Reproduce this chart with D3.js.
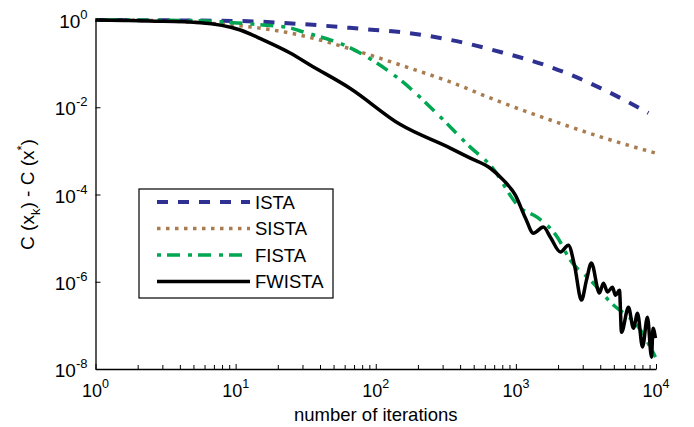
<!DOCTYPE html>
<html>
<head>
<meta charset="utf-8">
<script src="https://cdn.jsdelivr.net/npm/d3@7"></script>
<style>
  body { margin: 0; background: #fff; }
  text { font-family: "Liberation Sans", Arial, Helvetica, sans-serif; fill: #000; }
</style>
</head>
<body>
<div id="main"></div>
<script>
// values (iterations k, cost gap C(x_k) - C(x*))
var istaK  = [1, 10, 29, 99, 150, 340, 775, 1763, 4015, 8830];
var istaC  = [1, 0.95, 0.81, 0.59, 0.53, 0.35, 0.185, 0.084, 0.0275, 0.0074];

var sistaK = [1, 3, 6.9, 14.5, 28.9, 77.5, 150, 340, 775, 1763, 4015, 9910];
var sistaC = [1, 0.96, 0.83, 0.66, 0.45, 0.185, 0.093, 0.038, 0.0132, 0.0051, 0.0021, 0.00089];

var fistaK = [1, 4.7, 9.6, 15.7, 24.5, 28.9, 65.8, 150, 289, 473, 657, 1077, 1425, 1978, 2449, 3404, 4731, 7745, 9910];
var fistaC = [1, 0.97, 0.87, 0.77, 0.66, 0.56, 0.23, 0.042, 0.006, 0.00122, 4.7e-4, 4.9e-5, 3.0e-5, 1.05e-5, 3.1e-6, 1.09e-6, 3.4e-7, 7.8e-8, 1.87e-8];

var fwistaK = [1, 1.6, 2.45, 5.6, 10.8, 15.7, 24.5, 34, 65.8, 150, 340, 473, 657, 815, 992, 1170, 1333, 1571, 1763, 2079, 2371, 2618, 2938, 3190, 3459, 3945, 4217, 4506, 4887, 5140, 5486, 5673, 6363, 6903, 7380, 8013, 8687, 9290, 9520, 9910];
var fwistaC = [1, 0.98, 0.95, 0.87, 0.59, 0.35, 0.175, 0.093, 0.027, 0.0040, 0.00116, 6.8e-4, 4.0e-4, 2.14e-4, 9.7e-5, 2.9e-5, 1.3e-5, 1.79e-5, 1.05e-5, 4.8e-6, 6.9e-6, 2.4e-6, 3.8e-7, 1.09e-6, 2.7e-6, 5.5e-7, 9.3e-7, 5.8e-7, 7.5e-7, 4.9e-7, 6.4e-7, 7.0e-8, 2.6e-7, 8.6e-8, 1.9e-7, 3.2e-8, 1.54e-7, 1.87e-8, 8.6e-8, 5.1e-8];

var legendNames = ["ISTA", "SISTA", "FISTA", "FWISTA"];
var xTickExp = [0, 1, 2, 3, 4];
var yTickExp = [0, -2, -4, -6, -8];

var ctx = {
    w: 694,
    h: 427,
    left: 95.5, right: 656, top: 20, bottom: 369,
};

var series = [
    {name: "ISTA",   k: istaK,   c: istaC,   color: "#2e3192", width: 4,   dash: "11,10"},
    {name: "SISTA",  k: sistaK,  c: sistaC,  color: "#a97c50", width: 3.5, dash: "3.5,5.5"},
    {name: "FISTA",  k: fistaK,  c: fistaC,  color: "#00a651", width: 3.5, dash: "4,6,13,8"},
    {name: "FWISTA", k: fwistaK, c: fwistaC, color: "#000000", width: 3.5, dash: null},
];

var createViz = function(){
    var svg = d3.select("#main").append("svg")
        .attr("width", ctx.w)
        .attr("height", ctx.h);

    ctx.xScale = d3.scaleLog().domain([1, 1e4]).range([ctx.left, ctx.right]);
    ctx.yScale = d3.scaleLog().domain([1e-8, 1]).range([ctx.bottom, ctx.top]);

    // curves
    var line = d3.line()
        .x(function(d){ return ctx.xScale(d[0]); })
        .y(function(d){ return ctx.yScale(d[1]); })
        .curve(d3.curveMonotoneX);

    series.forEach(function(s){
        var pts = s.k.map(function(k, i){ return [k, s.c[i]]; });
        var p = svg.append("path")
            .attr("d", line(pts))
            .attr("fill", "none")
            .attr("stroke", s.color)
            .attr("stroke-width", s.width)
            .attr("stroke-linejoin", "round");
        if (s.dash) p.attr("stroke-dasharray", s.dash);
    });

    // x axis, ticks pointing inward
    var minor = ctx.xScale.ticks();
    svg.append("g")
        .attr("transform", "translate(0," + ctx.bottom + ")")
        .call(d3.axisBottom(ctx.xScale).tickValues(minor).tickSize(-4).tickSizeOuter(0).tickFormat(""))
        .call(function(g){
            g.select(".domain").attr("stroke-width", 1.3);
            g.selectAll(".tick line").attr("stroke-width", 1)
              .attr("y2", function(d){ return Math.abs(Math.log10(d) % 1) < 1e-9 ? -5 : -4; });
        });

    // y axis, majors only
    svg.append("g")
        .attr("transform", "translate(" + ctx.left + ",0)")
        .call(d3.axisLeft(ctx.yScale).tickValues(yTickExp.map(function(e){ return Math.pow(10, e); }))
              .tickSize(-5).tickSizeOuter(0).tickFormat(""))
        .call(function(g){
            g.select(".domain").attr("stroke-width", 1.3);
            g.selectAll(".tick line").attr("stroke-width", 1);
        });

    // tick labels 10^n
    xTickExp.forEach(function(e){
        var t = svg.append("text")
            .attr("x", ctx.xScale(Math.pow(10, e)))
            .attr("y", ctx.bottom + 28)
            .attr("text-anchor", "middle")
            .style("font-size", "18px");
        t.append("tspan").text("10");
        t.append("tspan").attr("dy", -9).style("font-size", "12.5px").text(e);
    });
    yTickExp.forEach(function(e){
        var t = svg.append("text")
            .attr("x", ctx.left - 8)
            .attr("y", ctx.yScale(Math.pow(10, e)) + 8)
            .attr("text-anchor", "end")
            .style("font-size", "19px");
        t.append("tspan").text("10");
        t.append("tspan").attr("dy", -9).style("font-size", "13px").text(e);
    });

    // axis titles
    svg.append("text")
        .attr("x", (ctx.left + ctx.right) / 2)
        .attr("y", 421)
        .attr("text-anchor", "middle")
        .style("font-size", "18.5px")
        .text("number of iterations");

    var yl = svg.append("text")
        .attr("transform", "translate(34," + ((ctx.top + ctx.bottom) / 2) + ") rotate(-90)")
        .attr("text-anchor", "middle")
        .style("font-size", "19px");
    yl.append("tspan").text("C (x");
    yl.append("tspan").attr("dy", 6).style("font-size", "13px").text("k");
    yl.append("tspan").attr("dy", -6).text(") - C (x");
    yl.append("tspan").attr("dy", -8).style("font-size", "13px").text("*");
    yl.append("tspan").attr("dy", 8).text(")");

    // legend
    var lg = svg.append("g").attr("transform", "translate(139,189)");
    lg.append("rect")
        .attr("width", 194).attr("height", 109)
        .attr("fill", "#fff").attr("stroke", "#000").attr("stroke-width", 1.2);
    series.forEach(function(s, i){
        var yy = 13 + i * 26.5;
        var l = lg.append("line")
            .attr("x1", 18).attr("x2", 111)
            .attr("y1", yy).attr("y2", yy)
            .attr("stroke", s.color).attr("stroke-width", s.width);
        if (s.dash) l.attr("stroke-dasharray", s.dash);
        lg.append("text")
            .attr("x", 116).attr("y", yy + 6.5)
            .style("font-size", "18.5px")
            .text(legendNames[i]);
    });
};

createViz();
</script>
</body>
</html>
